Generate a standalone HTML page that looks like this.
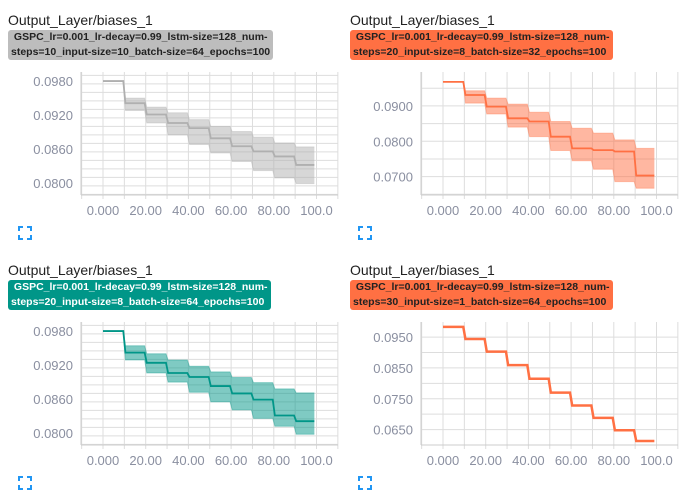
<!DOCTYPE html>
<html><head><meta charset="utf-8">
<style>
body{margin:0;width:696px;height:504px;background:#fff;font-family:"Liberation Sans",sans-serif;position:relative;overflow:hidden}
.title{position:absolute;font-size:14px;color:#212121}
.badge{position:absolute;font-size:10.5px;font-weight:bold;line-height:15px;padding:0 3px;border-radius:3px;color:#222;white-space:nowrap}
svg{position:absolute;left:0;top:0}
</style></head><body>
<div class="title" style="left:8px;top:12px">Output_Layer/biases_1</div>
<div class="badge" style="left:8px;top:30px;background:#bdbdbd">&nbsp;GSPC_lr=0.001_lr-decay=0.99_lstm-size=128_num-<br>steps=10_input-size=10_batch-size=64_epochs=100</div>
<div class="title" style="left:350px;top:12px">Output_Layer/biases_1</div>
<div class="badge" style="left:350px;top:30px;background:#ff7043">&nbsp;GSPC_lr=0.001_lr-decay=0.99_lstm-size=128_num-<br>steps=20_input-size=8_batch-size=32_epochs=100</div>
<div class="title" style="left:8px;top:262px">Output_Layer/biases_1</div>
<div class="badge" style="left:8px;top:280px;background:#009688;color:#fff">&nbsp;GSPC_lr=0.001_lr-decay=0.99_lstm-size=128_num-<br>steps=20_input-size=8_batch-size=64_epochs=100</div>
<div class="title" style="left:350px;top:262px">Output_Layer/biases_1</div>
<div class="badge" style="left:350px;top:280px;background:#ff7043">&nbsp;GSPC_lr=0.001_lr-decay=0.99_lstm-size=128_num-<br>steps=30_input-size=1_batch-size=64_epochs=100</div>
<svg id="s" width="696" height="504"></svg>
<script>
const xTicks=[0,20,40,60,80,100];
const xTickLabels=["0.000","20.00","40.00","60.00","80.00","100.0"];
const hi1=[0.0980,0.0950,0.0934,0.0924,0.0912,0.0900,0.0891,0.0881,0.0871,0.0864];
const mid1=[0.0980,0.0941,0.0921,0.0906,0.0897,0.0879,0.0865,0.0856,0.0847,0.0832];
const lo1=[0.0980,0.0928,0.0906,0.0885,0.0868,0.0853,0.0838,0.0822,0.0809,0.0799];
const yTicks1=[0.0980,0.0920,0.0860,0.0800];
const hi2=[0.0968,0.0943,0.0922,0.0905,0.0882,0.0856,0.0837,0.0823,0.0804,0.0780];
const mid2=[0.0968,0.0931,0.0898,0.0865,0.0856,0.0813,0.0780,0.0775,0.0771,0.0703];
const lo2=[0.0968,0.0908,0.0877,0.0840,0.0813,0.0774,0.0745,0.0721,0.0686,0.0667];
const yTicks2=[0.0900,0.0800,0.0700];
const hi3=[0.0980,0.0954,0.0940,0.0929,0.0918,0.0908,0.0898,0.0889,0.0878,0.0871];
const mid3=[0.0980,0.0942,0.0924,0.0906,0.0899,0.0883,0.0870,0.0859,0.0831,0.0821];
const lo3=[0.0980,0.0929,0.0906,0.0890,0.0872,0.0855,0.0841,0.0826,0.0812,0.0798];
const yTicks3=[0.0980,0.0920,0.0860,0.0800];
const val4=[0.0983,0.0944,0.0903,0.0859,0.0815,0.0770,0.0728,0.0688,0.0648,0.0613];
const yTicks4=[0.0950,0.0850,0.0750,0.0650];

const S=document.getElementById('s');const NS='http://www.w3.org/2000/svg';
function mk(t,a,p){const e=document.createElementNS(NS,t);for(const k in a)e.setAttribute(k,a[k]);(p||S).appendChild(e);return e;}
function chart(ox,oy,ymin,ymax,yTicks,minorStep,color,series,band,name){
  const L=ox+81,R=ox+338,T=oy+72,B=oy+195;
  const x=v=>ox+103+v*2.135, y=v=>B-(v-ymin)/(ymax-ymin)*(B-T);
  const g=mk('g',{});
  
  
  for(let v=-10;v<=110;v+=10){mk('line',{x1:x(v),x2:x(v),y1:T,y2:B+4,stroke:'#ddd','stroke-width':1},g);}
  const first=Math.ceil(ymin/minorStep)*minorStep;
  for(let v=first;v<=ymax;v+=minorStep){mk('line',{x1:L,x2:R,y1:y(v),y2:y(v),stroke:'#ddd'},g);}
  mk('line',{x1:L,x2:L,y1:T,y2:B,stroke:'#ccc'},g);
  mk('line',{x1:L,x2:R,y1:B,y2:B,stroke:'#ccc'},g);
  yTicks.forEach(v=>{const t=mk('text',{x:L-8,y:y(v)+5,'text-anchor':'end','font-size':13,fill:'#8a8fa0','font-family':'Liberation Sans'},g);t.textContent=v.toFixed(4);
    });
  xTicks.forEach((v,i)=>{const t=mk('text',{x:x(v),y:B+20,'text-anchor':'middle','font-size':13,fill:'#8a8fa0','font-family':'Liberation Sans'},g);t.textContent=xTickLabels[i];
    });
  const pts=arr=>{let p=[];arr.forEach((v,i)=>{p.push([x(i*10+(i?0.5:0)),y(v)]);p.push([x(Math.min(i*10+9.5,99)),y(v)]);});return p;};
  if(band){
    const h=pts(band[0]),l=pts(band[1]).reverse();
    const poly=mk('polygon',{points:h.concat(l).map(p=>p.join(',')).join(' '),fill:color,'fill-opacity':0.5},g);
    
  }
  series.forEach((s,k)=>{const edge=band&&k!==1;
    const pl=mk('polyline',{points:pts(s).map(p=>p.join(',')).join(' '),fill:'none',stroke:color,'stroke-width':band?(edge?1:1.8):2.5,'stroke-opacity':edge?0.35:1},g);
    });
  const e=mk('g',{stroke:'#2196f3','stroke-width':2,fill:'none'},g);
  
  const ex=ox+19,ey=oy+227;
  mk('path',{d:`M${ex} ${ey+4}V${ey}H${ex+4}M${ex+8} ${ey}H${ex+12}V${ey+4}M${ex+12} ${ey+8}V${ey+12}H${ex+8}M${ex+4} ${ey+12}H${ex}V${ey+8}`},e);
}
chart(0,0,0.0779,0.0996,yTicks1,0.0015,'#b0b0b0',[hi1,mid1,lo1],[hi1,lo1],'chart-1');
chart(340,0,0.0648,0.0996,yTicks2,0.005,'#ff7043',[hi2,mid2,lo2],[hi2,lo2],'chart-2');
chart(0,250,0.0779,0.0996,yTicks3,0.0015,'#009688',[hi3,mid3,lo3],[hi3,lo3],'chart-3');
chart(340,250,0.0600,0.0999,yTicks4,0.005,'#ff7043',[val4],null,'chart-4');
</script>
</body></html>
